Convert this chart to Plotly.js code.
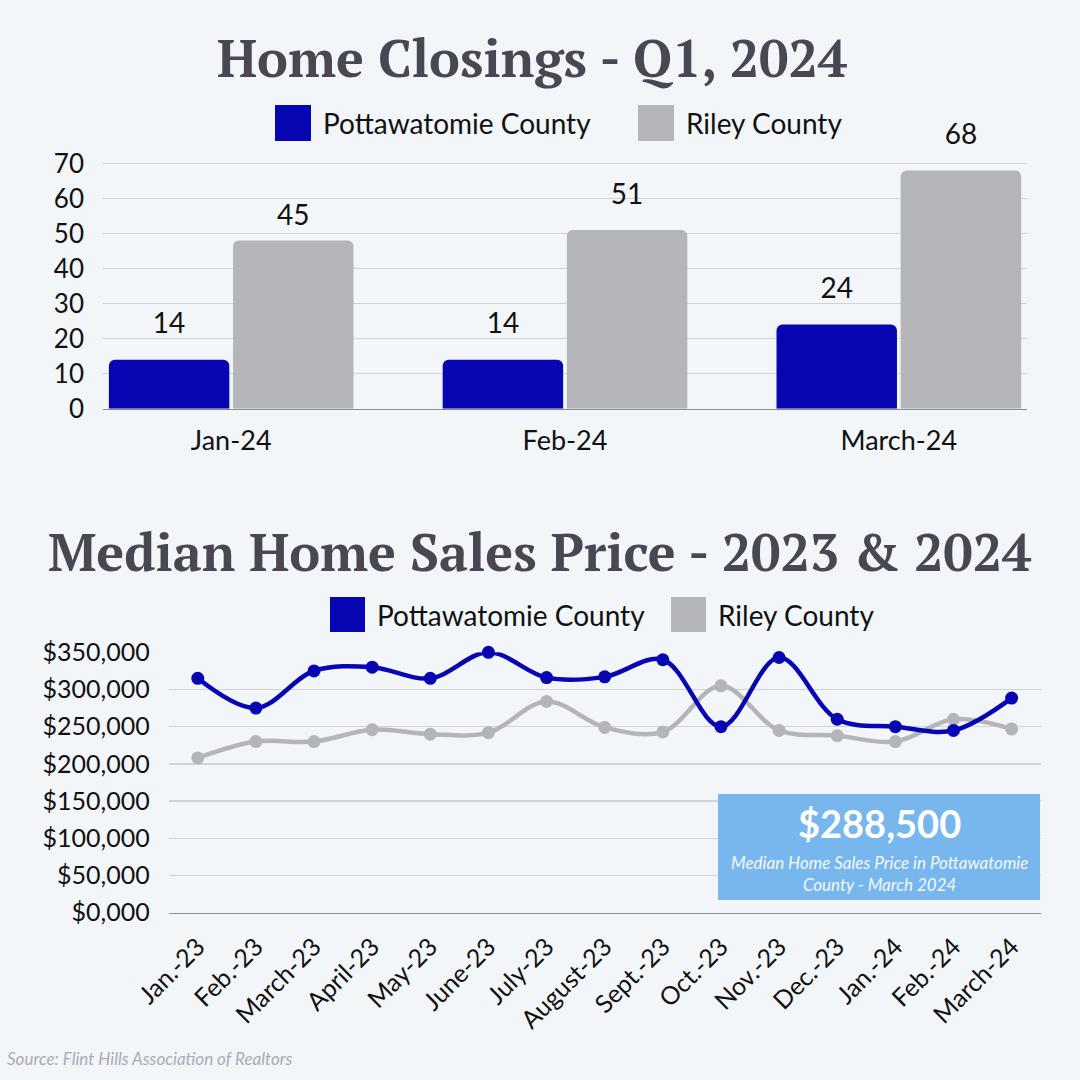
<!DOCTYPE html>
<html>
<head>
<meta charset="utf-8">
<script src="https://cdn.plot.ly/plotly-3.0.1.min.js"></script>
<style>
  html, body { margin: 0; padding: 0; background: #f2f6f9; }
  #chart { width: 1080px; height: 1080px; }
</style>
</head>
<body>
<div id="chart"></div>
<script>
var seriesNames = ['Pottawatomie County', 'Riley County'];
var seriesColors = ['#0606b3', '#b5b4b9'];

// top chart: closings
var closingMonths = ['Jan-24', 'Feb-24', 'March-24'];
var pottClosings = [14, 14, 24];
var rileyClosings = [48, 51, 68];
var pottClosingLabels = [14, 14, 24];
var rileyClosingLabels = [45, 51, 68];
var closingTicks = [0, 10, 20, 30, 40, 50, 60, 70];

// bottom chart: median price
var priceMonths = ['Jan.-23', 'Feb.-23', 'March-23', 'April-23', 'May-23', 'June-23', 'July-23',
  'August-23', 'Sept.-23', 'Oct.-23', 'Nov.-23', 'Dec.-23', 'Jan.-24', 'Feb.-24', 'March-24'];
var pottPrices = [315000, 275000, 325000, 330000, 315000, 350000, 316000, 317000,
  340000, 250000, 343000, 260000, 250000, 245000, 288500];
var rileyPrices = [208000, 230000, 230000, 246000, 240000, 242000, 284000, 249000,
  243000, 305000, 245000, 238000, 230000, 260000, 247000];
var priceTicks = [0, 50000, 100000, 150000, 200000, 250000, 300000, 350000];
var priceTickText = ['$0,000', '$50,000', '$100,000', '$150,000', '$200,000', '$250,000', '$300,000', '$350,000'];

var bodyFont = 'Source Sans Pro, Lato, sans-serif';
var titleFont = 'PT Serif, Liberation Serif, serif';
var titleColor = '#4a4753';
var labelLift = 9.5;

function px(x) { return x / 1080; }
function py(y) { return 1 - y / 1080; }

var data = [
  {
    type: 'bar', x: closingMonths, y: pottClosings, name: seriesNames[0],
    marker: { color: seriesColors[0], cornerradius: 6 }, offsetgroup: 'a', hoverinfo: 'skip'
  },
  {
    type: 'bar', x: closingMonths, y: rileyClosings, name: seriesNames[1],
    marker: { color: seriesColors[1], cornerradius: 6 }, offsetgroup: 'b', hoverinfo: 'skip'
  },
  {
    type: 'scatter', mode: 'text', x: closingMonths, y: pottClosingLabels.map(function (v) { return v + labelLift; }),
    text: pottClosingLabels, textfont: { family: bodyFont, size: 28, color: '#111' },
    offsetgroup: 'a', cliponaxis: false, hoverinfo: 'skip'
  },
  {
    type: 'scatter', mode: 'text', x: closingMonths, y: rileyClosingLabels.map(function (v) { return v + labelLift; }),
    text: rileyClosingLabels, textfont: { family: bodyFont, size: 28, color: '#111' },
    offsetgroup: 'b', cliponaxis: false, hoverinfo: 'skip'
  },
  {
    type: 'scatter', mode: 'lines+markers', x: priceMonths, y: rileyPrices, name: seriesNames[1],
    xaxis: 'x2', yaxis: 'y2', offsetgroup: 'line', cliponaxis: false,
    line: { color: seriesColors[1], width: 4.5, shape: 'spline', smoothing: 1 },
    marker: { color: seriesColors[1], size: 13 }
  },
  {
    type: 'scatter', mode: 'lines+markers', x: priceMonths, y: pottPrices, name: seriesNames[0],
    xaxis: 'x2', yaxis: 'y2', offsetgroup: 'line', cliponaxis: false,
    line: { color: seriesColors[0], width: 4.5, shape: 'spline', smoothing: 1 },
    marker: { color: seriesColors[0], size: 13 }
  }
];

var shapes = [];
var annotations = [
  { text: '<b>Home Closings - Q1, 2024</b>', x: px(532), y: py(57), xref: 'paper', yref: 'paper',
    xanchor: 'center', yanchor: 'middle', showarrow: false, font: { family: titleFont, size: 52, color: titleColor } },
  { text: '<b>Median Home Sales Price - 2023 &amp; 2024</b>', x: px(540), y: py(551), xref: 'paper', yref: 'paper',
    xanchor: 'center', yanchor: 'middle', showarrow: false, font: { family: titleFont, size: 52, color: titleColor } }
];

function legendItem(name, color, left, top, size) {
  shapes.push({ type: 'rect', xref: 'paper', yref: 'paper', x0: px(left), x1: px(left + size),
    y0: py(top + size), y1: py(top), fillcolor: color, line: { width: 0 } });
  annotations.push({ text: name, x: px(left + size + 10), y: py(top + size / 2), xref: 'paper', yref: 'paper',
    xanchor: 'left', yanchor: 'middle', showarrow: false, font: { family: bodyFont, size: 28, color: '#111' } });
}
legendItem(seriesNames[0], seriesColors[0], 275, 105, 36);
legendItem(seriesNames[1], seriesColors[1], 638, 105, 36);
legendItem(seriesNames[0], seriesColors[0], 330, 597, 35);
legendItem(seriesNames[1], seriesColors[1], 671, 597, 35);

// callout box
shapes.push({ type: 'rect', xref: 'paper', yref: 'paper', x0: px(718), x1: px(1040), y0: py(900), y1: py(794),
  fillcolor: '#78b7ee', line: { width: 0 } });
annotations.push({ text: '<b>$' + pottPrices[pottPrices.length - 1].toLocaleString('en-US') + '</b>',
  x: px(879), y: py(823), xref: 'paper', yref: 'paper', xanchor: 'center', yanchor: 'middle', showarrow: false,
  font: { family: bodyFont, size: 38, color: '#ffffff' } });
annotations.push({ text: '<i>Median Home Sales Price in Pottawatomie<br>County - March 2024</i>',
  x: px(879), y: py(873), xref: 'paper', yref: 'paper', xanchor: 'center', yanchor: 'middle', showarrow: false,
  font: { family: bodyFont, size: 17, color: '#f4f8fc' } });

annotations.push({ text: '<i>Source: Flint Hills Association of Realtors</i>', x: px(5), y: py(1058),
  xref: 'paper', yref: 'paper', xanchor: 'left', yanchor: 'middle', showarrow: false,
  font: { family: bodyFont, size: 17, color: '#a9abb4' } });

var layout = {
  width: 1080, height: 1080,
  paper_bgcolor: '#f2f6f9', plot_bgcolor: 'rgba(0,0,0,0)',
  margin: { l: 0, r: 0, t: 0, b: 0 },
  showlegend: false,
  barmode: 'group', bargap: 0.256, bargroupgap: 0.03,
  scattermode: 'group', scattergap: 0.256,
  xaxis: {
    domain: [px(103), px(1027)], range: [-0.384, 2.384], type: 'category',
    tickfont: { family: bodyFont, size: 27, color: '#111' }, ticks: '', ticklabelstandoff: 7,
    showgrid: false, showline: true, linecolor: '#8c8c8c', linewidth: 1.5, fixedrange: true
  },
  // range runs past 70 so the value labels above the tallest bar stay inside the axis
  yaxis: {
    domain: [py(408.7), py(408.7 - 80 * 3.504)], range: [0, 80], tickvals: closingTicks,
    tickfont: { family: bodyFont, size: 26, color: '#111' }, ticks: '', ticklabelstandoff: 18,
    gridcolor: '#cfd3d8', gridwidth: 1.5, zeroline: false, showline: false, fixedrange: true
  },
  xaxis2: {
    domain: [px(168.7), px(1040.7)], range: [-0.5, 14.5], type: 'category', anchor: 'y2',
    tickfont: { family: bodyFont, size: 25, color: '#111' }, tickangle: -45, ticks: '', ticklabelstandoff: 8,
    showgrid: false, showline: true, linecolor: '#8c8c8c', linewidth: 1.5, fixedrange: true
  },
  yaxis2: {
    domain: [py(912.7), py(652.3)], range: [0, 350000], anchor: 'x2',
    tickvals: priceTicks, ticktext: priceTickText,
    tickfont: { family: bodyFont, size: 25, color: '#111' }, ticks: '', ticklabelstandoff: 18,
    gridcolor: '#cfd3d8', gridwidth: 1.5, zeroline: false, showline: false, fixedrange: true
  },
  shapes: shapes,
  annotations: annotations
};

Plotly.newPlot('chart', data, layout, { staticPlot: true });
</script>
</body>
</html>
